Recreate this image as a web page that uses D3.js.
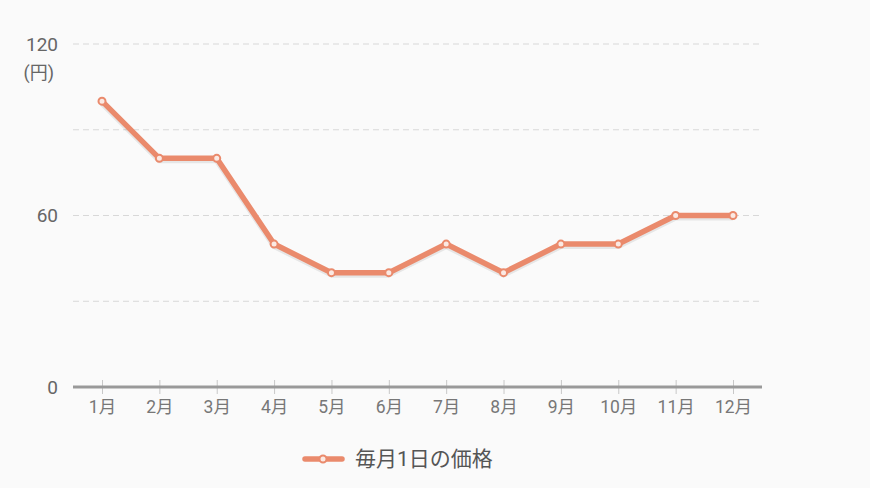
<!DOCTYPE html>
<html><head><meta charset="utf-8">
<script src="https://cdn.jsdelivr.net/npm/d3@7"></script>
<style>
html,body{margin:0;padding:0;background:#fafafa;}
svg{display:block;font-family:Roboto,"Noto Sans CJK JP","Noto Sans",sans-serif;}
</style></head><body>
<svg id="c" width="870" height="488"></svg>
<script>
const months = ["1月","2月","3月","4月","5月","6月","7月","8月","9月","10月","11月","12月"];
const prices = [100,80,80,50,40,40,50,40,50,50,60,60];
const gridValues = [30,60,90,120];
const yLabels = [0,60,120];
const seriesName = "毎月1日の価格";
const unitLabel = "(円)";

const svg = d3.select("#c");
const color = "#ea8a6c";
const x = d3.scalePoint().domain(months).range([102,733]);
const y = d3.scaleLinear().domain([0,120]).range([387,44]);

// grid
svg.append("g").selectAll("line").data(gridValues).join("line")
  .attr("x1",73).attr("x2",760)
  .attr("y1",d=>y(d)).attr("y2",d=>y(d))
  .attr("stroke","#d8d8d8").attr("stroke-width",1).attr("stroke-dasharray","6,4");

// y labels
svg.append("g").selectAll("text").data(yLabels).join("text")
  .attr("x",58).attr("y",d=>y(d)).attr("dy","0.35em")
  .attr("text-anchor","end").attr("fill","#666").attr("font-size",19)
  .text(d=>d);
svg.append("text").attr("x",54).attr("y",y(120)+29).attr("dy","0.35em")
  .attr("text-anchor","end").attr("fill","#666").attr("font-size",18).text(unitLabel);

// x axis
const xAxis = d3.axisBottom(x).tickSize(0).tickPadding(14);
const gx = svg.append("g").attr("transform",`translate(0,${y(0)})`).call(xAxis);
gx.select(".domain").remove();
gx.selectAll("text").attr("fill","#777").attr("font-size",17.5).attr("font-family","Roboto,'Noto Sans CJK JP',sans-serif");
gx.selectAll(".tick").append("line").attr("y1",-7).attr("y2",7).attr("stroke","#c8c8c8").attr("stroke-width",1);
svg.append("line").attr("x1",73).attr("x2",762).attr("y1",y(0)).attr("y2",y(0))
  .attr("stroke","#999").attr("stroke-width",3);

// line
const line = d3.line().x((d,i)=>x(months[i])).y(d=>y(d));
svg.append("path").datum(prices).attr("d",line).attr("fill","none")
  .attr("stroke","#000").attr("stroke-opacity",0.08).attr("stroke-width",6)
  .attr("transform","translate(0,2)").attr("stroke-linejoin","round");
svg.append("path").datum(prices).attr("d",line).attr("fill","none")
  .attr("stroke",color).attr("stroke-width",5.5).attr("stroke-linejoin","round");
svg.append("g").selectAll("circle").data(prices).join("circle")
  .attr("cx",(d,i)=>x(months[i])).attr("cy",d=>y(d)).attr("r",3.5)
  .attr("fill","#fbe9e3").attr("stroke",color).attr("stroke-width",2);

// legend
const lg = svg.append("g");
lg.append("line").attr("x1",305).attr("x2",342).attr("y1",459).attr("y2",459)
  .attr("stroke",color).attr("stroke-width",5.5).attr("stroke-linecap","round");
lg.append("circle").attr("cx",323).attr("cy",459).attr("r",3.5)
  .attr("fill","#fbe9e3").attr("stroke",color).attr("stroke-width",2);
lg.append("text").attr("x",355).attr("y",459).attr("dy","0.35em")
  .attr("fill","#555").attr("font-size",21).text(seriesName);
</script>
</body></html>
